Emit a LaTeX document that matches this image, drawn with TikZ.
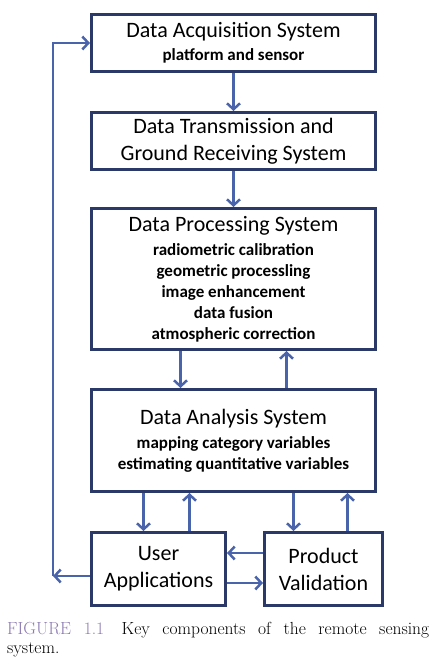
\documentclass[tikz,border=0pt]{standalone}
\usepackage{fontspec}
\newfontfamily\boxfont{Carlito}
\usetikzlibrary{arrows.meta}
\definecolor{boxline}{RGB}{43,57,105}
\definecolor{flowline}{RGB}{74,100,172}
\definecolor{figlabel}{RGB}{140,122,178}
\tikzset{
  sysbox/.style={draw=boxline, line width=3pt, align=center, inner sep=0pt,
    font=\boxfont\fontsize{17}{21}\selectfont},
  bigtext/.style={font=\boxfont\fontsize{22}{27}\selectfont},
  flow/.style={draw=flowline, line width=2.5pt, -{Straight Barb[length=6pt,width=13pt]}},
}
\newcommand{\boxtitle}[1]{{\fontsize{22}{27}\selectfont #1}}
\begin{document}
\begin{tikzpicture}[x=1pt,y=-1pt]
\useasboundingbox (0,0) rectangle (441,664);
% system boxes
\node[sysbox, minimum width=284pt, minimum height=57pt] (acq) at (233.5,43)
  {\boxtitle{Data Acquisition System}\\[2pt]\bfseries platform and sensor};
\node[sysbox, bigtext, minimum width=284pt, minimum height=57pt] (trans) at (233.5,141)
  {Data Transmission and\\Ground Receiving System};
\node[sysbox, minimum width=284pt, minimum height=141pt] (proc) at (233.5,279)
  {\boxtitle{Data Processing System}\\[3pt]\bfseries radiometric calibration\\
   \bfseries geometric processling\\ \bfseries image enhancement\\
   \bfseries data fusion\\ \bfseries atmospheric correction};
\node[sysbox, minimum width=284pt, minimum height=102pt] (ana) at (233.5,440.5)
  {\boxtitle{Data Analysis System}\\[3pt]\bfseries mapping category variables\\
   \bfseries estimating quantitative variables};
\node[sysbox, bigtext, minimum width=134pt, minimum height=73pt] (user) at (158.5,569)
  {User\\Applications};
\node[sysbox, bigtext, minimum width=118pt, minimum height=73pt] (valid) at (323.5,569)
  {Product\\Validation};
% connectors
\draw[flow] (acq) -- (trans);
\draw[flow] (trans) -- (proc);
\draw[flow] ([xshift=-53pt]proc.south) -- ([xshift=-53pt]ana.north);
\draw[flow] ([xshift=53pt]ana.north) -- ([xshift=53pt]proc.south);
\draw[flow] ([xshift=-15pt]user.north |- ana.south) -- ([xshift=-15pt]user.north);
\draw[flow] ([xshift=31pt]user.north) -- ([xshift=31pt]user.north |- ana.south);
\draw[flow] ([xshift=-30pt]valid.north |- ana.south) -- ([xshift=-30pt]valid.north);
\draw[flow] ([xshift=24pt]valid.north) -- ([xshift=24pt]valid.north |- ana.south);
\draw[flow] ([yshift=16pt]user.east -| valid.west) -- ([yshift=16pt]user.east);
\draw[flow] ([yshift=-14pt]user.east) -- ([yshift=-14pt]user.east -| valid.west);
% feedback loop
\coordinate (looplow) at (53,576);
\coordinate (looptop) at (53,43);
\draw[flow] ([yshift=-7pt]user.west) -- (looplow);
\draw[flow] (looplow) -- (looptop) -- (acq.west);
% caption
\node[anchor=north west, text width=422pt, align=justify, inner sep=0pt,
  font=\fontsize{17.5}{19}\selectfont] (caption) at (7,622)
  {\textcolor{figlabel}{FIGURE 1.1}\quad Key components of the remote sensing\linebreak system.};
\end{tikzpicture}
\end{document}
